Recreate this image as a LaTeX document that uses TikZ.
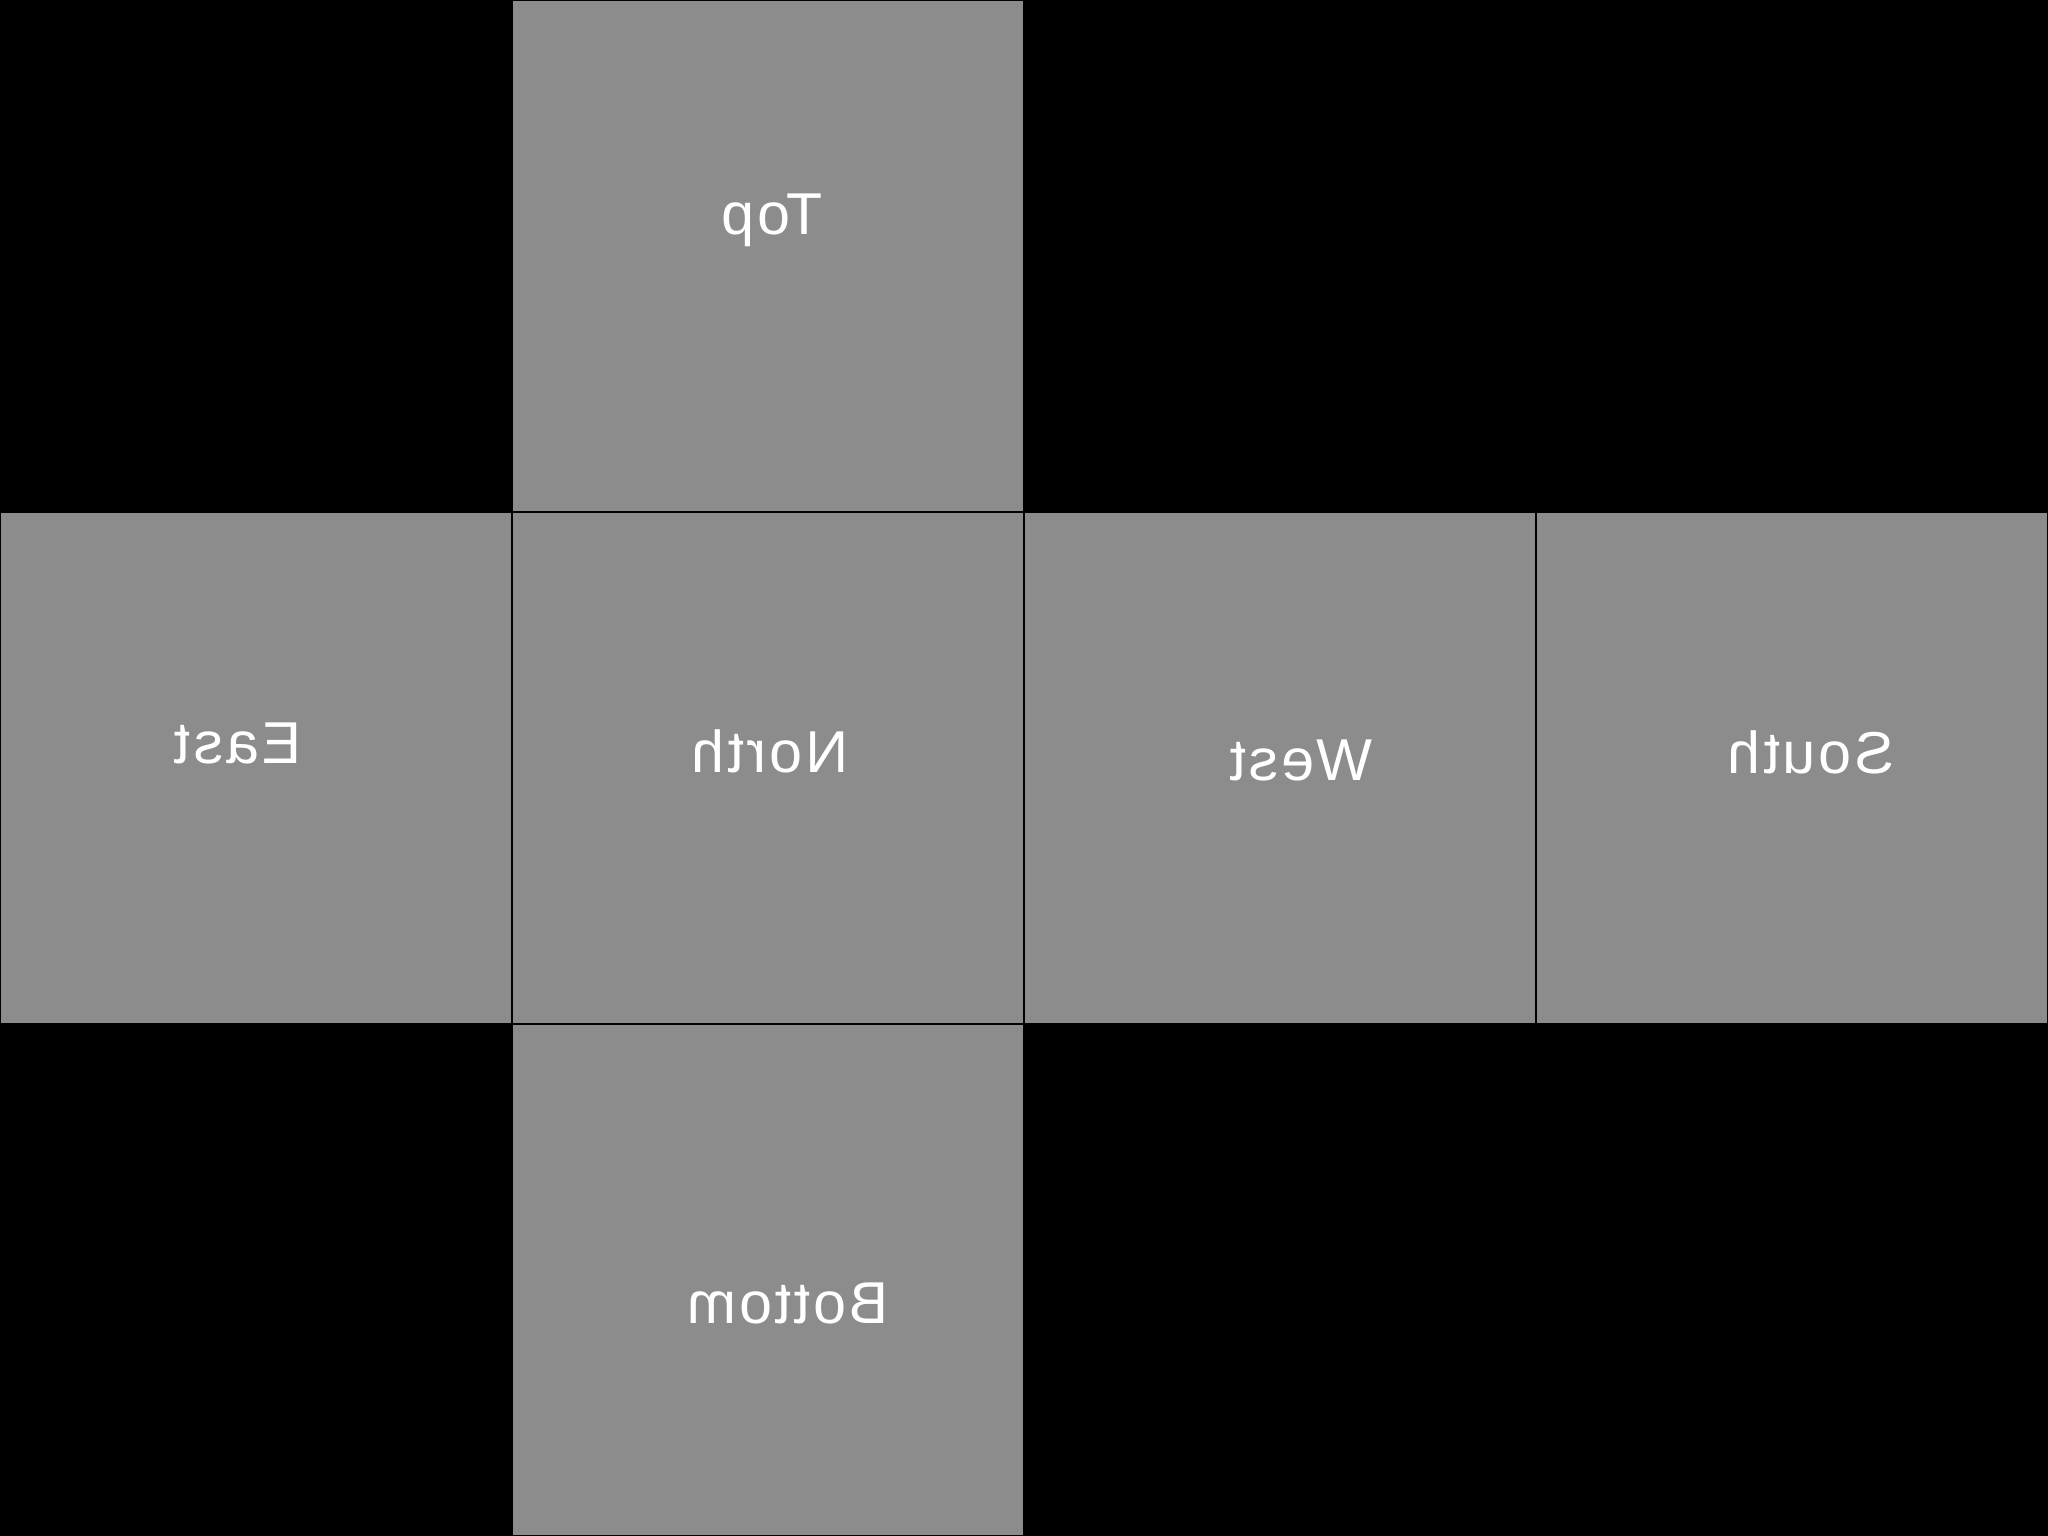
\documentclass[tikz,border=0pt]{standalone}
\usepackage{fontspec}
\setmainfont{Liberation Sans}[LetterSpace=5]
\definecolor{facegray}{HTML}{8C8C8C}
\tikzset{
	face/.style={fill=facegray, draw=black, line width=0.02cm},
	facelabel/.style={anchor=base, xscale=-1, text=white, inner sep=0pt, font=\fontsize{16.8pt}{20pt}\selectfont}
}

\begin{document}
\begin{tikzpicture}[x=0.01cm, y=-0.01cm]
		%%%%% START %%%%%
		
		\fill[black] (0, 0) rectangle (2048, 1536);
		\useasboundingbox (0, 0) rectangle (2048, 1536);
		
		\draw[face] (512, 0) rectangle (1024, 512);
		\draw[face] (0, 512) rectangle (512, 1024);
		\draw[face] (512, 512) rectangle (1024, 1024);
		\draw[face] (1024, 512) rectangle (1536, 1024);
		\draw[face] (1536, 512) rectangle (2048, 1024);
		\draw[face] (512, 1024) rectangle (1024, 1536);
		
		\node[facelabel] (top) at (772, 234) {Top};
		\node[facelabel] (east) at (238, 763) {East};
		\node[facelabel] (north) at (770, 772) {North};
		\node[facelabel] (west) at (1301, 780) {West};
		\node[facelabel] (south) at (1811, 773) {South};
		\node[facelabel] (bottom) at (788, 1323) {Bottom};
		
		%%%%% END %%%%%
	\end{tikzpicture}
\end{document}
